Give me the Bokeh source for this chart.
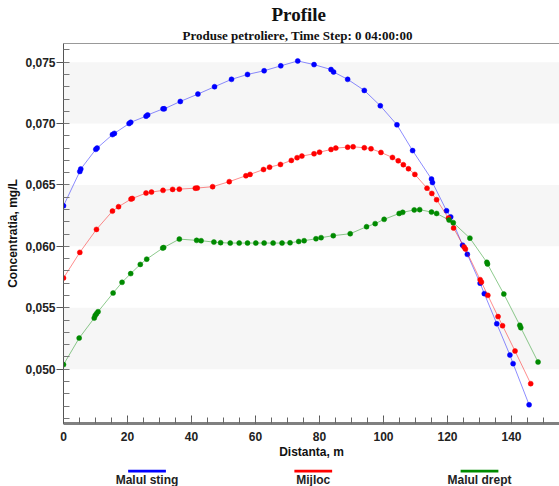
from bokeh.plotting import figure
from bokeh.models import (Range1d, LinearAxis, FixedTicker, Title, BoxAnnotation,
                          CustomJSTickFormatter)
from bokeh.layouts import column
from bokeh.core.properties import value
from bokeh.embed import file_html
from bokeh.resources import INLINE

# ---------------- data ----------------
blue_x = [0.0, 5.1, 5.4, 10.1, 10.5, 15.3, 15.9, 20.5, 21.0, 25.8, 26.3, 31.1, 31.5,
          36.5, 42.0, 47.2, 52.5, 57.5, 62.7, 67.9, 73.2, 78.3, 83.6, 84.4, 88.8,
          94.0, 99.0, 104.2, 109.1, 115.0, 115.3, 119.7, 121.0, 124.7, 126.2,
          130.2, 131.5, 135.4, 139.5, 140.5, 145.5]
blue_y = [0.0633, 0.0661, 0.0663, 0.0679, 0.0680, 0.0691, 0.0692, 0.0700, 0.0701,
          0.0706, 0.0707, 0.0712, 0.0712, 0.0718, 0.0724, 0.0730, 0.0736, 0.0740,
          0.0743, 0.0747, 0.0751, 0.0748, 0.0744, 0.0742, 0.0736, 0.0727, 0.07145,
          0.0699, 0.0678, 0.06548, 0.0652, 0.0629, 0.0624, 0.0601, 0.05935,
          0.0570, 0.05615, 0.0537, 0.05115, 0.05045, 0.0471]

red_x = [0.0, 5.1, 10.3, 15.3, 17.2, 21.1, 21.5, 25.8, 27.5, 31.1, 34.1, 36.2, 41.2,
         41.8, 46.6, 51.8, 57.0, 58.3, 62.5, 64.4, 67.8, 71.2, 73.0, 74.5, 78.3,
         80.0, 83.6, 85.1, 88.8, 90.5, 94.0, 96.1, 99.2, 102.8, 104.6, 106.2,
         107.8, 109.8, 113.6, 115.1, 116.6, 120.3, 121.9, 125.2, 125.6, 130.2,
         130.6, 132.6, 135.8, 137.2, 141.1, 146.0]
red_y = [0.05742, 0.05951, 0.06138, 0.06287, 0.06323, 0.06385, 0.06390, 0.06434,
         0.06442, 0.06456, 0.06464, 0.06466, 0.06474, 0.06475, 0.06486, 0.06527,
         0.06575, 0.06586, 0.06626, 0.06645, 0.06667, 0.06700, 0.06722, 0.06735,
         0.06754, 0.06767, 0.06789, 0.06800, 0.06808, 0.06811, 0.06803, 0.06795,
         0.06765, 0.06724, 0.06697, 0.06665, 0.06632, 0.06586, 0.06474, 0.06431,
         0.06380, 0.06230, 0.06149, 0.05994, 0.05978, 0.05729, 0.05709, 0.05601,
         0.05428, 0.05354, 0.05148, 0.04882]

green_x = [0.0, 4.9, 9.6, 9.9, 10.3, 10.8, 15.5, 18.3, 21.0, 24.0, 26.0, 31.0, 31.3,
           36.2, 41.6, 43.0, 47.0, 49.1, 52.1, 54.9, 57.5, 60.1, 62.7, 65.5, 68.3,
           70.8, 73.5, 75.2, 78.9, 80.5, 84.3, 89.6, 94.7, 97.4, 100.2, 104.9,
           106.0, 109.6, 111.3, 115.0, 116.6, 120.5, 121.8, 127.0, 132.3, 132.5,
           137.6, 142.6, 142.9, 148.3]
green_y = [0.05037, 0.05253, 0.05416, 0.05436, 0.05452, 0.05468, 0.05620, 0.05707,
           0.05778, 0.05853, 0.05896, 0.05986, 0.05990, 0.06059, 0.06049, 0.06046,
           0.06035, 0.06030, 0.06027, 0.06027, 0.06027, 0.06027, 0.06027, 0.06027,
           0.06027, 0.06029, 0.06040, 0.06046, 0.06062, 0.06071, 0.06087, 0.06103,
           0.06160, 0.06185, 0.06220, 0.06268, 0.06277, 0.06297, 0.06299, 0.06279,
           0.06268, 0.06214, 0.06193, 0.06067, 0.05870, 0.05856, 0.05612, 0.05357,
           0.05338, 0.05058]

series_names = ["Malul sting", "Mijloc", "Malul drept"]
series_colors = ["#0000ff", "#ff0000", "#008a00"]

x_major_ticks = [0, 20, 40, 60, 80, 100, 120, 140]
x_minor_ticks = [v for v in range(0, 160, 5)]
y_major_ticks = [0.050, 0.055, 0.060, 0.065, 0.070, 0.075]
y_minor_ticks = [round(0.045 + 0.001 * i, 3) for i in range(32)]

band_bottoms = [0.050, 0.060, 0.070]
band_tops = [0.055, 0.065, 0.075]

title_text = "Profile"
subtitle_text = "Produse petroliere, Time Step: 0 04:00:00"
x_label = "Distanta, m"
y_label = "Concentratia, mg/L"

SANS = "Liberation Sans"
SERIF = "Liberation Serif"

FIG_W = 559
X_START, X_END = 0, 155
BORDER_L, BORDER_R = 63, 0
MAIN_H = 469
STRIP_H = 486 - MAIN_H

# ---------------- main figure ----------------
p = figure(width=FIG_W, height=MAIN_H, output_backend="svg", toolbar_location=None,
           x_range=Range1d(X_START, X_END), y_range=Range1d(0.045575, 0.07652),
           min_border_left=BORDER_L, min_border_right=BORDER_R, min_border_bottom=46,
           min_border_top=43, x_axis_location=None, y_axis_location=None)
p.outline_line_color = None
p.xgrid.visible = False
p.ygrid.visible = False

for b, t in zip(band_bottoms, band_tops):
    p.add_layout(BoxAnnotation(bottom=b, top=t, fill_color="#f6f6f6", fill_alpha=1.0,
                               line_color=None, level="underlay"))

# y axis
yax = LinearAxis(ticker=FixedTicker(ticks=y_major_ticks, minor_ticks=y_minor_ticks),
                 formatter=CustomJSTickFormatter(code="return tick.toFixed(3).replace('.', ',');"),
                 axis_label=y_label)
yax.axis_line_color = "#555555"
yax.major_tick_line_color = "#555555"
yax.major_tick_out = 7
yax.major_tick_in = 0
yax.minor_tick_line_color = "#777777"
yax.minor_tick_in = 6
yax.minor_tick_out = 0
yax.major_label_standoff = 1
yax.major_label_text_font = SANS
yax.major_label_text_font_style = "bold"
yax.major_label_text_font_size = "12px"
yax.major_label_text_color = "#222222"
yax.axis_label_standoff = 2
yax.axis_label_text_font = SANS
yax.axis_label_text_font_style = "bold"
yax.axis_label_text_font_size = "12px"
yax.axis_label_text_color = "#111111"
p.add_layout(yax, "left")

# x axis
xax = LinearAxis(ticker=FixedTicker(ticks=x_major_ticks, minor_ticks=x_minor_ticks),
                 axis_label=x_label)
xax.axis_line_color = "#808080"
xax.axis_line_width = 3
xax.major_tick_line_color = "#555555"
xax.major_tick_in = 8
xax.major_tick_out = 0
xax.minor_tick_line_color = "#666666"
xax.minor_tick_in = 6
xax.minor_tick_out = 0
xax.major_label_standoff = 8
xax.major_label_text_font = SANS
xax.major_label_text_font_style = "bold"
xax.major_label_text_font_size = "12px"
xax.major_label_text_color = "#222222"
xax.axis_label_standoff = 1
xax.axis_label_text_font = SANS
xax.axis_label_text_font_style = "bold"
xax.axis_label_text_font_size = "12px"
xax.axis_label_text_color = "#111111"
p.add_layout(xax, "below")

# top border line
tax = LinearAxis(ticker=FixedTicker(ticks=[]))
tax.axis_line_color = "#999999"
tax.major_tick_line_color = None
tax.minor_tick_line_color = None
p.add_layout(tax, "above")

p.add_layout(Title(text=subtitle_text, align="left", offset=119, standoff=2,
                   text_font=SERIF, text_font_style="bold", text_font_size="13px",
                   text_color="#111111"), "above")
p.add_layout(Title(text=title_text, align="left", offset=208, standoff=0,
                   text_font=SERIF, text_font_style="bold", text_font_size="19px",
                   text_color="#111111"), "above")

for xs, ys, col in zip([blue_x, red_x, green_x], [blue_y, red_y, green_y], series_colors):
    p.line(xs, ys, line_color=col, line_alpha=0.45, line_width=1)
    p.scatter(xs, ys, size=5, fill_color=col, line_color=col, line_width=0.5)

# ---------------- legend strip ----------------
# same horizontal units/borders as the main plot so the frames line up
lg = figure(width=FIG_W, height=STRIP_H, output_backend="svg", toolbar_location=None,
            x_range=Range1d(X_START, X_END), y_range=Range1d(STRIP_H, 0),
            min_border_left=BORDER_L, min_border_right=BORDER_R, min_border_top=0,
            min_border_bottom=0, x_axis_location=None, y_axis_location=None)
lg.outline_line_color = None
lg.xgrid.visible = False
lg.ygrid.visible = False

legend_center0, legend_step, legend_half = 26.1, 51.95, 5.9
centers = [legend_center0 + i * legend_step for i in range(len(series_names))]
lg.segment(x0=[c - legend_half for c in centers], y0=[1.5] * 3,
           x1=[c + legend_half for c in centers], y1=[1.5] * 3,
           line_color=series_colors, line_width=3)
lg.text(x=centers, y=[10.2] * 3, text=series_names, text_font=value(SANS),
        text_font_style="bold", text_font_size="12px", text_align="center",
        text_baseline="middle", text_color="#222222")

layout = column(p, lg, spacing=0)
open("out.html", "w").write(file_html(layout, INLINE))
